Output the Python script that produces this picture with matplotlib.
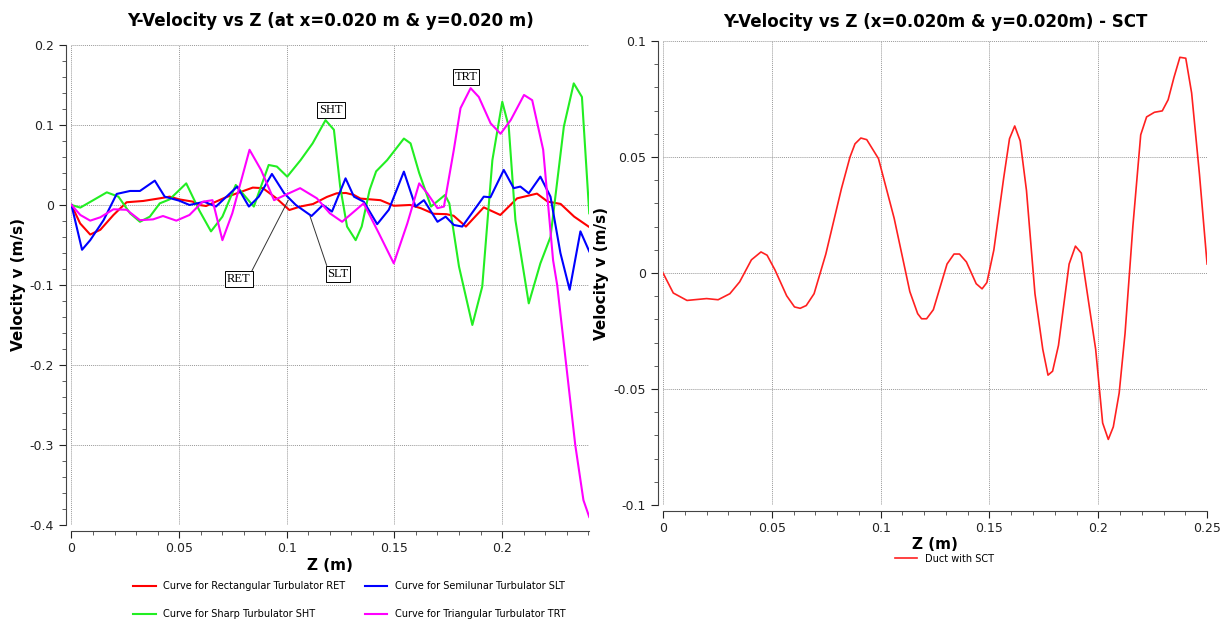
import matplotlib
matplotlib.use('Agg')
import matplotlib.pyplot as plt
from matplotlib.ticker import MultipleLocator, FuncFormatter

# left chart: y-velocity along z for four turbulators
z_ret = [0, 0.004, 0.0087, 0.0134, 0.0195, 0.0256, 0.0333, 0.041, 0.0456, 0.050, 0.0563, 0.0594,
         0.0625, 0.0717, 0.0842, 0.0889, 0.0952, 0.1012, 0.1062, 0.1122, 0.1186, 0.1232, 0.1275,
         0.1312, 0.1342, 0.1435, 0.1497, 0.1573, 0.1622, 0.1682, 0.1742, 0.1775, 0.1832, 0.1915,
         0.1992, 0.2070, 0.2162, 0.2212, 0.2272, 0.2335, 0.2402]
v_ret = [0, -0.023, -0.037, -0.031, -0.0125, 0.0034, 0.005, 0.0083, 0.0104, 0.007, 0.0042, 0,
         -0.0013, 0.0096, 0.0217, 0.021, 0.0083, -0.0063, -0.002, 0.0012, 0.010, 0.0146, 0.015,
         0.0125, 0.008, 0.006, -0.001, 0, -0.004, -0.011, -0.0115, -0.0135, -0.027, -0.003,
         -0.0125, 0.0083, 0.0142, 0.0042, 0.0013, -0.0146, -0.027]

z_slt = [0, 0.0049, 0.0087, 0.0149, 0.021, 0.0272, 0.0318, 0.0387, 0.0433, 0.050, 0.0548, 0.0617,
         0.0671, 0.077, 0.0824, 0.087, 0.0931, 0.0988, 0.1042, 0.1115, 0.1168, 0.121, 0.1273,
         0.1312, 0.1358, 0.142, 0.1474, 0.1544, 0.1598, 0.1637, 0.170, 0.1738, 0.1776, 0.1815,
         0.1915, 0.1946, 0.2008, 0.2054, 0.2085, 0.2124, 0.2178, 0.2225, 0.2271, 0.2314, 0.2364,
         0.2405]
v_slt = [0, -0.056, -0.044, -0.019, 0.0138, 0.0175, 0.0175, 0.0304, 0.0104, 0.0054, 0.0, 0.004,
         -0.002, 0.023, -0.002, 0.0104, 0.0388, 0.0146, 0, -0.0138, 0, -0.0083, 0.0333, 0.0104,
         0.004, -0.024, -0.006, 0.0417, -0.002, 0.006, -0.021, -0.0146, -0.025, -0.027, 0.0104,
         0.0096, 0.0438, 0.021, 0.023, 0.0146, 0.0354, 0.0104, -0.06, -0.106, -0.033, -0.058]

z_sht = [0, 0.0041, 0.0103, 0.0164, 0.0218, 0.0272, 0.0318, 0.0364, 0.041, 0.0456, 0.0533, 0.0594,
         0.0648, 0.0701, 0.0763, 0.0801, 0.0847, 0.0916, 0.0954, 0.1002, 0.1064, 0.112, 0.118,
         0.1219, 0.1248, 0.128, 0.1320, 0.1348, 0.1385, 0.1415, 0.1466, 0.1544, 0.1575, 0.1615,
         0.167, 0.1735, 0.1755, 0.1800, 0.1862, 0.1908, 0.1955, 0.2001, 0.2031, 0.2062, 0.2124,
         0.2178, 0.2225, 0.2287, 0.2333, 0.2371, 0.2405]
v_sht = [0, -0.0033, 0.0063, 0.0158, 0.0104, -0.0104, -0.021, -0.0146, 0.002, 0.007, 0.027, -0.007,
         -0.033, -0.0146, 0.025, 0.0125, -0.002, 0.05, 0.048, 0.0354, 0.056, 0.077, 0.106,
         0.094, 0.023, -0.027, -0.044, -0.027, 0.019, 0.042, 0.056, 0.083, 0.077, 0.04,
         -0.002, 0.0125, 0.002, -0.077, -0.15, -0.102, 0.056, 0.129, 0.098, -0.019, -0.123,
         -0.073, -0.04, 0.098, 0.152, 0.135, -0.0104]

z_trt = [0, 0.0041, 0.0087, 0.0134, 0.0195, 0.0256, 0.0318, 0.0379, 0.0425, 0.0487, 0.0548, 0.0609,
         0.0655, 0.0701, 0.0747, 0.0827, 0.0880, 0.0941, 0.1010, 0.1062, 0.1140, 0.1200, 0.1257,
         0.1357, 0.1427, 0.1497, 0.1560, 0.1615, 0.1653, 0.1700, 0.1730, 0.1776, 0.1807, 0.1854,
         0.1892, 0.1947, 0.1993, 0.2040, 0.2102, 0.2140, 0.2191, 0.2237, 0.2256, 0.2298, 0.2340,
         0.2378, 0.2405]
v_trt = [0, -0.0125, -0.0196, -0.0154, -0.0054, -0.006, -0.019, -0.018, -0.0138, -0.0196, -0.0125,
         0.004, 0.006, -0.044, -0.0104, 0.069, 0.044, 0.006, 0.0146, 0.021, 0.0083, -0.0104, -0.021,
         0.002, -0.035, -0.073, -0.023, 0.027, 0.0146, -0.004, -0.002, 0.069, 0.121, 0.146,
         0.135, 0.102, 0.089, 0.106, 0.1375, 0.131, 0.069, -0.069, -0.1, -0.2, -0.3,
         -0.369, -0.39]

# right chart: duct with SCT
z_sct = [0, 0.0047, 0.011, 0.020, 0.0253, 0.0307, 0.0352, 0.0406, 0.045, 0.0478, 0.0514, 0.0568,
         0.0604, 0.063, 0.0658, 0.0694, 0.0748, 0.082, 0.0859, 0.0882, 0.0909, 0.0936, 0.099,
         0.1062, 0.1134, 0.117, 0.1188, 0.1211, 0.1242, 0.1305, 0.1337, 0.1362, 0.1394, 0.1439,
         0.1466, 0.1488, 0.152, 0.1565, 0.1592, 0.1616, 0.1641, 0.167, 0.1709, 0.1745, 0.1769,
         0.179, 0.1817, 0.1866, 0.1895, 0.1922, 0.1943, 0.1988, 0.202, 0.2046, 0.2069, 0.2096,
         0.2123, 0.2159, 0.2195, 0.2222, 0.2258, 0.2294, 0.2321, 0.2348, 0.2375, 0.2402, 0.2429,
         0.2465, 0.25]
v_sct = [0, -0.0086, -0.0118, -0.011, -0.0115, -0.0089, -0.0038, 0.0057, 0.0091, 0.0077, 0.0014,
         -0.0098, -0.0146, -0.0152, -0.014, -0.0089, 0.0082, 0.0365, 0.050, 0.0557, 0.0582, 0.0575,
         0.0493, 0.0236, -0.008, -0.0175, -0.0197, -0.0197, -0.0158, 0.0039, 0.0082, 0.0082,
         0.0048, -0.0046, -0.0068, -0.0041, 0.0099, 0.0408, 0.0579, 0.0634, 0.057, 0.0356,
         -0.0089, -0.0329, -0.044, -0.0423, -0.0312, 0.0039, 0.0116, 0.0086, -0.0046, -0.0329,
         -0.0646, -0.0717, -0.0663, -0.0517, -0.026, 0.0202, 0.0596, 0.0673, 0.0693, 0.0699,
         0.0747, 0.0844, 0.093, 0.0926, 0.0776, 0.0425, 0.0039]

fig = plt.figure(figsize=(12.22, 6.22), dpi=100)
ax1 = fig.add_axes([0.0585, 0.156, 0.4237, 0.7717])
ax2 = fig.add_axes([0.5426, 0.188, 0.4452, 0.746])

fmt = FuncFormatter(lambda v, p: '%g' % round(v, 4))


def style(ax):
    for s in ['top', 'right']:
        ax.spines[s].set_visible(False)
    for s in ['left', 'bottom']:
        ax.spines[s].set_position(('outward', 4))
        ax.spines[s].set_color('#444444')
    ax.tick_params(which='major', direction='out', length=5, width=0.8, labelsize=9, colors='#222222')
    ax.tick_params(which='minor', direction='out', length=3, width=0.6, colors='#444444')
    ax.grid(True, which='major', linestyle=(0, (1, 1)), color='#999999', lw=0.7)
    ax.xaxis.set_major_formatter(fmt)
    ax.yaxis.set_major_formatter(fmt)


style(ax1)
ax1.plot(z_ret, v_ret, color='#ff0000', lw=1.5, label='Curve for Rectangular Turbulator RET')
ax1.plot(z_sht, v_sht, color='#22ee22', lw=1.5, label='Curve for Sharp Turbulator SHT')
ax1.plot(z_slt, v_slt, color='#0000ff', lw=1.5, label='Curve for Semilunar Turbulator SLT')
ax1.plot(z_trt, v_trt, color='#ff00ff', lw=1.5, label='Curve for Triangular Turbulator TRT')
ax1.set_xlim(0, 0.2405)
ax1.set_ylim(-0.4, 0.2)
ax1.xaxis.set_major_locator(MultipleLocator(0.05))
ax1.xaxis.set_minor_locator(MultipleLocator(0.01))
ax1.yaxis.set_major_locator(MultipleLocator(0.1))
ax1.yaxis.set_minor_locator(MultipleLocator(0.02))
ax1.set_title('Y-Velocity vs Z (at x=0.020 m & y=0.020 m)', fontsize=12, fontweight='bold', pad=14)
ax1.set_xlabel('Z (m)', fontsize=11, fontweight='bold', labelpad=2)
ax1.set_ylabel('Velocity v (m/s)', fontsize=11, fontweight='bold', labelpad=3)

box = dict(boxstyle='square,pad=0.15', fc='white', ec='black', lw=0.7)
ax1.annotate('TRT', xy=(0.1833, 0.16), ha='center', va='center', fontsize=9,
             fontfamily='Liberation Serif', bbox=box)
ax1.annotate('SHT', xy=(0.1206, 0.119), ha='center', va='center', fontsize=9,
             fontfamily='Liberation Serif', bbox=box)
ax1.annotate('RET', xy=(0.1007, 0.006), xytext=(0.0778, -0.0925), ha='center', va='center',
             fontsize=9, fontfamily='Liberation Serif', bbox=box,
             arrowprops=dict(arrowstyle='-', color='#333333', lw=0.7, relpos=(1, 1),
                             shrinkA=0, shrinkB=0))
ax1.annotate('SLT', xy=(0.1108, -0.014), xytext=(0.1238, -0.086), ha='center', va='center',
             fontsize=9, fontfamily='Liberation Serif', bbox=box,
             arrowprops=dict(arrowstyle='-', color='#333333', lw=0.7, relpos=(0, 1),
                             shrinkA=0, shrinkB=0))

fig.legend(*ax1.get_legend_handles_labels(), loc='center', bbox_to_anchor=(0.286, 0.035),
           ncol=2, frameon=False, fontsize=7, labelspacing=1.8, columnspacing=2.0,
           handlelength=2.3)

style(ax2)
ax2.plot(z_sct, v_sct, color='#ff2020', lw=1.2, label='Duct with SCT')
ax2.set_xlim(0, 0.25)
ax2.set_ylim(-0.1, 0.1)
ax2.xaxis.set_major_locator(MultipleLocator(0.05))
ax2.xaxis.set_minor_locator(MultipleLocator(0.01))
ax2.yaxis.set_major_locator(MultipleLocator(0.05))
ax2.yaxis.set_minor_locator(MultipleLocator(0.01))
ax2.set_title('Y-Velocity vs Z (x=0.020m & y=0.020m) - SCT', fontsize=12, fontweight='bold', pad=10)
ax2.set_xlabel('Z (m)', fontsize=11, fontweight='bold', labelpad=1)
ax2.set_ylabel('Velocity v (m/s)', fontsize=11, fontweight='bold', labelpad=3)
ax2.legend(loc='center', bbox_to_anchor=(0.773, 0.102), bbox_transform=fig.transFigure,
           frameon=False, fontsize=7, handlelength=2.3)

fig.savefig('out.png', dpi=100)
